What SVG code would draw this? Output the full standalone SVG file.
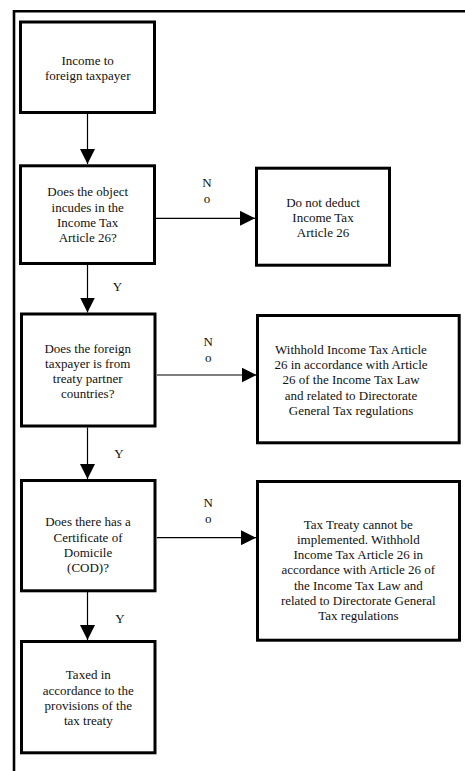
<svg xmlns="http://www.w3.org/2000/svg" width="465" height="771" viewBox="0 0 465 771">
<defs>
<marker id="ah" viewBox="0 0 15 15" refX="15" refY="7.5" markerWidth="15" markerHeight="15" markerUnits="userSpaceOnUse" orient="auto">
<path d="M0,0 L15,7.5 L0,15 z" fill="#000"/>
</marker>
</defs>
<style>
.box{fill:#fff;stroke:#000;stroke-width:3}
.t{font-family:"Liberation Serif","Times New Roman",serif;font-size:13px;fill:#111;text-anchor:middle}
.c{stroke:#000;stroke-width:1.2;fill:none;marker-end:url(#ah)}
.frame{stroke:#000;stroke-width:2.6;fill:none}
</style>
<rect width="465" height="771" fill="#fff"/>
<path class="frame" d="M14,771 V11.3 H465"/>
<g id="connectors">
<line class="c" x1="87.5" y1="114" x2="87.5" y2="164"/>
<line class="c" x1="156" y1="218.3" x2="255" y2="218.3"/>
<line class="c" x1="87.5" y1="265" x2="87.5" y2="312.5"/>
<line class="c" x1="157" y1="375" x2="256.5" y2="375"/>
<line class="c" x1="87.5" y1="427.5" x2="87.5" y2="479"/>
<line class="c" x1="157" y1="537.7" x2="256" y2="537.7"/>
<line class="c" x1="87.5" y1="592" x2="87.5" y2="640"/>
<text class="t" x="207" y="187.3">N</text>
<text class="t" x="207" y="202.7">o</text>
<text class="t" x="117.5" y="290.5">Y</text>
<text class="t" x="208.3" y="346">N</text>
<text class="t" x="208.3" y="361.7">o</text>
<text class="t" x="119" y="457.5">Y</text>
<text class="t" x="208.3" y="506.7">N</text>
<text class="t" x="208.3" y="522.5">o</text>
<text class="t" x="120" y="622.5">Y</text>
</g>
<g id="n1">
<rect class="box" x="20.5" y="22" width="134" height="90.5"/>
<text class="t" x="87.7" y="65">Income to</text>
<text class="t" x="87.7" y="80">foreign taxpayer</text>
</g>
<g id="n2">
<rect class="box" x="20.5" y="165.8" width="134" height="97.7"/>
<text class="t" x="87.7" y="196">Does the object</text>
<text class="t" x="87.7" y="211.5">incudes in the</text>
<text class="t" x="87.7" y="226.8">Income Tax</text>
<text class="t" x="87.7" y="242">Article 26?</text>
</g>
<g id="n3">
<rect class="box" x="256.5" y="168.2" width="133" height="97"/>
<text class="t" x="323" y="206.7">Do not deduct</text>
<text class="t" x="323" y="221.7">Income Tax</text>
<text class="t" x="323" y="236.7">Article 26</text>
</g>
<g id="n4">
<rect class="box" x="21.5" y="314" width="133.5" height="112"/>
<text class="t" x="87.7" y="352.7">Does the foreign</text>
<text class="t" x="87.7" y="367.7">taxpayer is from</text>
<text class="t" x="87.7" y="383.3">treaty partner</text>
<text class="t" x="87.7" y="398.3">countries?</text>
</g>
<g id="n5">
<rect class="box" x="257.5" y="315.5" width="201.7" height="127.3"/>
<text class="t" x="351" y="354.3">Withhold Income Tax Article</text>
<text class="t" x="351" y="369.3">26 in accordance with Article</text>
<text class="t" x="351" y="384.3">26 of the Income Tax Law</text>
<text class="t" x="351" y="400">and related to Directorate</text>
<text class="t" x="351" y="415">General Tax regulations</text>
</g>
<g id="n6">
<rect class="box" x="21.5" y="480.5" width="133.5" height="110.3"/>
<text class="t" x="88" y="526">Does there has a</text>
<text class="t" x="88" y="541.7">Certificate of</text>
<text class="t" x="88" y="556.7">Domicile</text>
<text class="t" x="88" y="571.7">(COD)?</text>
</g>
<g id="n7">
<rect class="box" x="257.5" y="481.5" width="202" height="158.7"/>
<text class="t" x="358.3" y="529.3">Tax Treaty cannot be</text>
<text class="t" x="358.3" y="544.3">implemented. Withhold</text>
<text class="t" x="358.3" y="559.3">Income Tax Article 26 in</text>
<text class="t" x="358.3" y="574.3">accordance with Article 26 of</text>
<text class="t" x="358.3" y="590">the Income Tax Law and</text>
<text class="t" x="358.3" y="605">related to Directorate General</text>
<text class="t" x="358.3" y="620">Tax regulations</text>
</g>
<g id="n8">
<rect class="box" x="21.5" y="641.5" width="133.5" height="111.3"/>
<text class="t" x="88.3" y="679.3">Taxed in</text>
<text class="t" x="88.3" y="695">accordance to the</text>
<text class="t" x="88.3" y="710">provisions of the</text>
<text class="t" x="88.3" y="725">tax treaty</text>
</g>
</svg>
